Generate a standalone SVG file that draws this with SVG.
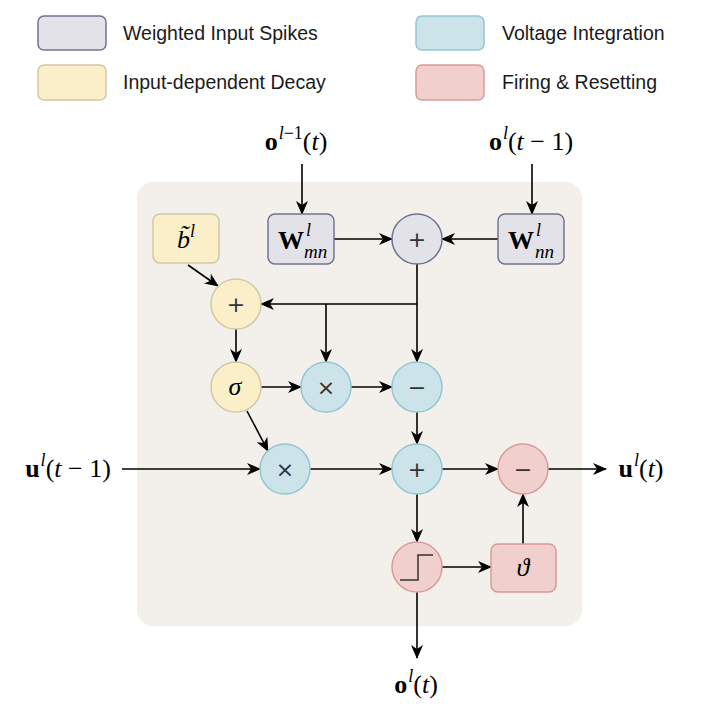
<svg xmlns="http://www.w3.org/2000/svg" width="714" height="726" viewBox="0 0 714 726">
<style>
.leg{font-family:"Liberation Sans",Arial,sans-serif;font-size:19.5px;fill:#1a1a1a}
.m{font-family:"Liberation Serif","DejaVu Serif",serif;font-size:26px;fill:#000}
.mi{font-style:italic}
.b{font-weight:bold}
.sp{font-size:18px}
.sb{font-size:19px}
.op{font-family:"DejaVu Sans",sans-serif;font-size:22px;fill:#333;text-anchor:middle}
.grey{fill:#e3e2e9;stroke:#6f7590;stroke-width:1.5}
.blue{fill:#cde3ea;stroke:#92c6d0;stroke-width:1.5}
.yel{fill:#faefc8;stroke:#cfc9a5;stroke-width:1.5}
.red{fill:#f0cfcc;stroke:#d99a9c;stroke-width:1.5}
.c line,.c path,.c polyline{stroke:#000;stroke-width:1.6;fill:none}
.a{marker-end:url(#ah)}
</style>
<defs>
<marker id="ah" markerUnits="userSpaceOnUse" viewBox="0 0 14 12" refX="13" refY="6" markerWidth="14" markerHeight="12" orient="auto">
<path d="M0,0 L14,6 L0,12 L4,6 Z" fill="#000"/>
</marker>
</defs>
<rect width="714" height="726" fill="#fff"/>
<g id="legend">
<rect class="grey" x="38" y="16" width="68" height="34" rx="6"/>
<text class="leg" x="123" y="40">Weighted Input Spikes</text>
<rect class="yel" x="38" y="65" width="68" height="35" rx="6"/>
<text class="leg" x="123" y="89">Input-dependent Decay</text>
<rect class="blue" x="416" y="16" width="68" height="34" rx="6"/>
<text class="leg" x="502" y="40">Voltage Integration</text>
<rect class="red" x="416" y="65" width="68" height="35" rx="6"/>
<text class="leg" x="502" y="89">Firing &amp; Resetting</text>
</g>
<rect id="panel" x="137" y="182" width="445" height="444" rx="16" fill="#f3f0eb"/>
<g id="labels">
<text class="m" x="296" y="150" text-anchor="middle"><tspan class="b">o</tspan><tspan class="sp" dy="-11" dx="1"><tspan class="mi">l</tspan>−1</tspan><tspan dy="11">(</tspan><tspan class="mi">t</tspan>)</text>
<text class="m" x="531" y="150" text-anchor="middle"><tspan class="b">o</tspan><tspan class="sp mi" dy="-11" dx="1">l</tspan><tspan dy="11">(</tspan><tspan class="mi">t</tspan> − 1)</text>
<text class="m" x="68" y="477" text-anchor="middle"><tspan class="b">u</tspan><tspan class="sp mi" dy="-11" dx="1">l</tspan><tspan dy="11">(</tspan><tspan class="mi">t</tspan> − 1)</text>
<text class="m" x="641" y="477" text-anchor="middle"><tspan class="b">u</tspan><tspan class="sp mi" dy="-11" dx="1">l</tspan><tspan dy="11">(</tspan><tspan class="mi">t</tspan>)</text>
<text class="m" x="416" y="693" text-anchor="middle"><tspan class="b">o</tspan><tspan class="sp mi" dy="-11" dx="1">l</tspan><tspan dy="11">(</tspan><tspan class="mi">t</tspan>)</text>
</g>
<g id="connectors" class="c">
<line class="a" x1="302" y1="164" x2="302" y2="214"/>
<line class="a" x1="532" y1="164" x2="532" y2="214"/>
<line class="a" x1="334" y1="239" x2="392" y2="239"/>
<line class="a" x1="498" y1="239" x2="442" y2="239"/>
<line x1="417" y1="264" x2="417" y2="304"/>
<line class="a" x1="417" y1="304" x2="261" y2="304"/>
<line class="a" x1="417" y1="304" x2="417" y2="362"/>
<line class="a" x1="326" y1="304" x2="326" y2="362"/>
<line class="a" x1="188" y1="265" x2="218" y2="286"/>
<line class="a" x1="236" y1="329" x2="236" y2="362"/>
<line class="a" x1="261" y1="387" x2="301" y2="387"/>
<line class="a" x1="351" y1="387" x2="392" y2="387"/>
<line class="a" x1="247" y1="411" x2="268" y2="451"/>
<line class="a" x1="417" y1="412" x2="417" y2="444"/>
<line class="a" x1="122" y1="469" x2="260" y2="469"/>
<line class="a" x1="310" y1="469" x2="392" y2="469"/>
<line class="a" x1="442" y1="469" x2="498" y2="469"/>
<line class="a" x1="548" y1="469" x2="606" y2="469"/>
<line class="a" x1="417" y1="494" x2="417" y2="542"/>
<line class="a" x1="442" y1="567" x2="491" y2="567"/>
<line class="a" x1="523" y1="544" x2="523" y2="494"/>
<line class="a" x1="417" y1="592" x2="417" y2="658"/>
</g>
<g id="node-Wmn">
<rect class="grey" x="268" y="214" width="66" height="50" rx="7"/>
<text class="m b" x="291" y="249" text-anchor="middle" font-size="27">W</text>
<text class="m mi sp" x="306" y="236">l</text>
<text class="m mi sb" x="304" y="258">mn</text>
</g>
<g id="node-Wnn">
<rect class="grey" x="498" y="214" width="66" height="50" rx="7"/>
<text class="m b" x="521" y="249" text-anchor="middle" font-size="27">W</text>
<text class="m mi sp" x="536" y="236">l</text>
<text class="m mi sb" x="535" y="258">nn</text>
</g>
<g id="node-sum-grey">
<circle class="grey" cx="417" cy="239" r="25"/>
<text class="op" x="417" y="247">+</text>
</g>
<g id="node-b">
<rect class="yel" x="153" y="214" width="66" height="49" rx="7"/>
<text class="m" x="186" y="248" text-anchor="middle"><tspan class="mi">b&#x303;</tspan><tspan class="mi sp" dy="-11">l</tspan></text>
</g>
<g id="node-sum-yel">
<circle class="yel" cx="236" cy="304" r="25"/>
<text class="op" x="236" y="312">+</text>
</g>
<g id="node-sigma">
<circle class="yel" cx="236" cy="387" r="25"/>
<text class="m mi" x="235" y="395" text-anchor="middle">σ</text>
</g>
<g id="node-mul1">
<circle class="blue" cx="326" cy="387" r="25"/>
<text class="op" x="326" y="395">×</text>
</g>
<g id="node-minus-blue">
<circle class="blue" cx="417" cy="387" r="25"/>
<text class="op" x="417" y="395">−</text>
</g>
<g id="node-mul2">
<circle class="blue" cx="285" cy="469" r="25"/>
<text class="op" x="285" y="477">×</text>
</g>
<g id="node-sum-blue">
<circle class="blue" cx="417" cy="469" r="25"/>
<text class="op" x="417" y="477">+</text>
</g>
<g id="node-minus-red">
<circle class="red" cx="523" cy="469" r="25"/>
<text class="op" x="523" y="477">−</text>
</g>
<g id="node-step">
<circle class="red" cx="417" cy="567" r="25"/>
<path d="M400,580 H418 V555 H433" fill="none" stroke="#333" stroke-width="1.5"/>
</g>
<g id="node-theta">
<rect class="red" x="491" y="544" width="65" height="48" rx="7"/>
<text class="m mi" x="523" y="576" text-anchor="middle">ϑ</text>
</g>
</svg>
